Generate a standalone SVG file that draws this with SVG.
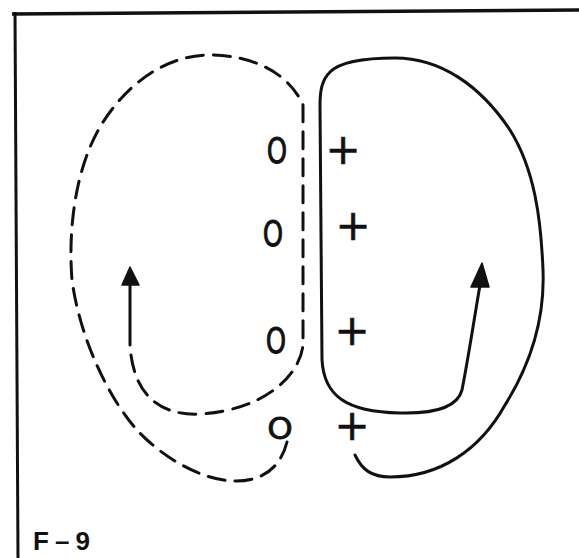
<svg xmlns="http://www.w3.org/2000/svg" width="579" height="558" viewBox="0 0 579 558">
  <style>
    .ln { fill: none; stroke: #111; stroke-width: 3; stroke-linecap: round; stroke-linejoin: round; }
    .dash { stroke-dasharray: 17 10; }
    .head { fill: #111; stroke: #111; stroke-width: 1.5; stroke-linejoin: round; }
    .o { font-family: "DejaVu Sans", sans-serif; font-size: 36px; fill: #111; stroke: #111; stroke-width: 0.9; text-anchor: middle; }
    .p { font-family: "DejaVu Sans", sans-serif; font-size: 42px; fill: #111; stroke: #111; stroke-width: 0.6; text-anchor: middle; }
    .lbl { font-family: "Liberation Sans", Arial, sans-serif; font-weight: bold; font-size: 26px; fill: #111; }
  </style>
  <rect width="579" height="558" fill="#ffffff"/>
  <g id="frame">
    <line x1="12" y1="14" x2="579" y2="10" stroke="#111" stroke-width="3.5"/>
    <line x1="15" y1="12" x2="18" y2="558" stroke="#111" stroke-width="3"/>
  </g>
  <g id="connectors">
    <path class="ln dash" d="M 287,442 C 280,470 260,481 236,481 C 200,481 160,455 137,430 C 110,400 80,340 72,280 C 68,230 75,170 100,127 C 125,85 165,55 210,55 C 255,55 290,75 303,105 L 303,345 C 300,375 265,410 200,414 C 160,416 133,395 130,345"/>
    <path class="ln" d="M 130,345 L 130,280"/>
    <polygon class="head" points="130,267 122,285 139,285"/>
    <path class="ln" d="M 355,455 C 362,470 372,477 390,477 C 440,477 480,450 505,405 C 530,365 545,320 543,270 C 541,220 535,170 510,130 C 480,85 440,58 395,58 C 365,58 340,62 330,72 C 322,80 320,90 320,105 L 322,360 C 324,395 345,412 400,413 C 440,414 458,405 462,390 C 468,360 474,320 480,285"/>
    <polygon class="head" points="482,263 471,287 489,287"/>
  </g>
  <g id="o1"><text class="o" transform="translate(277,163) scale(0.72,1)">O</text></g>
  <g id="o2"><text class="o" transform="translate(273,246) scale(0.72,1)">O</text></g>
  <g id="o3"><text class="o" transform="translate(276,353) scale(0.72,1)">O</text></g>
  <g id="o4"><text class="o" transform="translate(280,439) scale(0.9,0.85)">O</text></g>
  <g id="p1"><text class="p" x="343" y="164">+</text></g>
  <g id="p2"><text class="p" x="353" y="240">+</text></g>
  <g id="p3"><text class="p" x="352" y="345">+</text></g>
  <g id="p4"><text class="p" x="352" y="440">+</text></g>
  <g id="label"><text class="lbl" x="33" y="550" textLength="57" lengthAdjust="spacing">F–9</text></g>
</svg>
